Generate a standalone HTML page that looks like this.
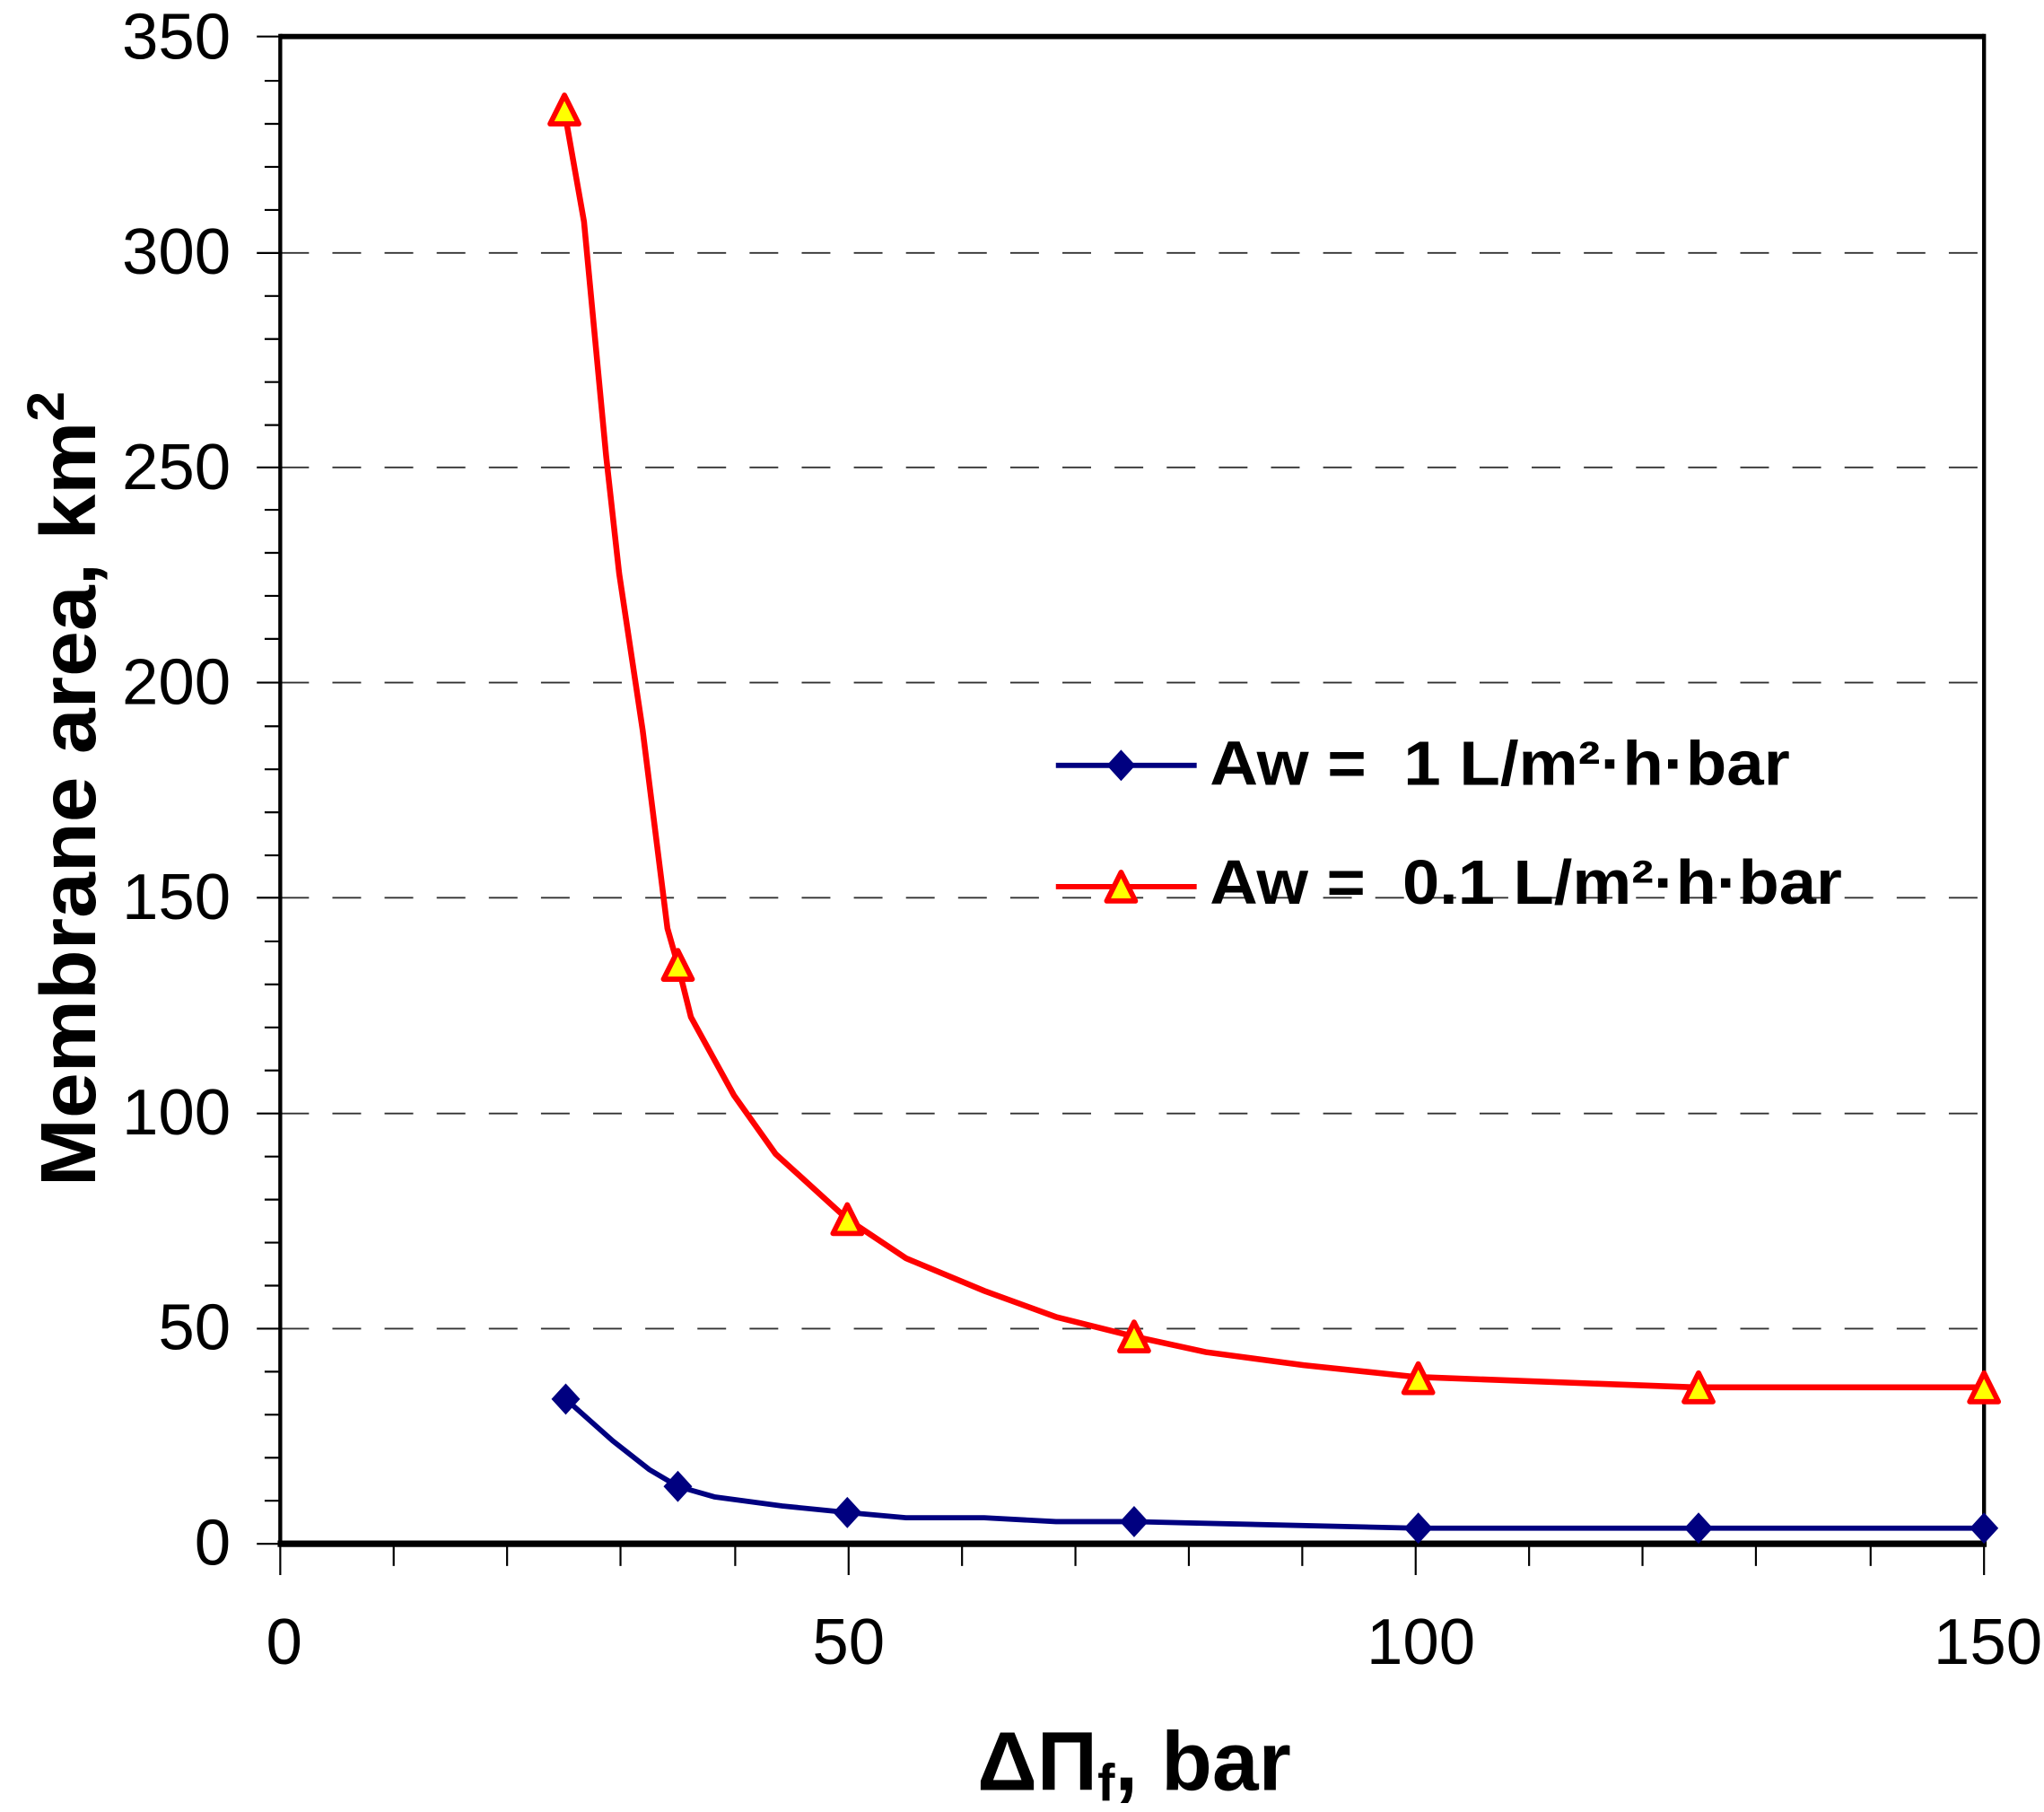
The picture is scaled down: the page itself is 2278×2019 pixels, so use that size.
<!DOCTYPE html>
<html><head><meta charset="utf-8"><style>
html,body{margin:0;padding:0;background:#fff;}
svg{display:block;}
text{font-family:"Liberation Sans",Arial,sans-serif;}
</style></head><body>
<svg width="2278" height="2019" viewBox="0 0 1568 1389.7" preserveAspectRatio="none" xmlns="http://www.w3.org/2000/svg">
<rect width="1568" height="1390" fill="#fff"/>
<g stroke="#333" stroke-width="1.3" stroke-dasharray="22,18">
<line x1="215" y1="1019" x2="1522" y2="1019"/>
<line x1="215" y1="854" x2="1522" y2="854"/>
<line x1="215" y1="688.5" x2="1522" y2="688.5"/>
<line x1="215" y1="523.5" x2="1522" y2="523.5"/>
<line x1="215" y1="358.5" x2="1522" y2="358.5"/>
<line x1="215" y1="194" x2="1522" y2="194"/>
</g>
<g stroke="#000" stroke-width="1.5">
<path d="M197 1184H215M203 1151H215M203 1118H215M203 1085H215M203 1052H215M197 1019H215M203 986H215M203 953H215M203 920H215M203 887H215M197 854H215M203 821H215M203 788H215M203 755H215M203 722H215M197 688.5H215M203 656H215M203 623H215M203 590H215M203 557H215M197 523.5H215M203 490H215M203 457H215M203 424H215M203 391H215M197 358.5H215M203 326H215M203 293H215M203 260H215M203 227H215M197 194H215M203 161H215M203 128H215M203 95H215M203 62H215M197 28H215"/>
<path d="M215 1184V1208M302 1184V1201M389 1184V1201M476 1184V1201M564 1184V1201M651 1184V1208M738 1184V1201M825 1184V1201M912 1184V1201M999 1184V1201M1086 1184V1208M1173 1184V1201M1260 1184V1201M1347 1184V1201M1435 1184V1201M1522 1184V1208"/>
</g>
<line x1="215" y1="28" x2="1522" y2="28" stroke="#000" stroke-width="4"/>
<line x1="215" y1="26" x2="215" y2="1186" stroke="#000" stroke-width="3"/>
<line x1="1522" y1="26" x2="1522" y2="1186" stroke="#000" stroke-width="3"/>
<line x1="213" y1="1184" x2="1524" y2="1184" stroke="#000" stroke-width="5"/>
<g font-size="50" text-anchor="end" fill="#000">
<text x="177" y="1200">0</text>
<text x="177" y="1035">50</text>
<text x="177" y="870">100</text>
<text x="177" y="705">150</text>
<text x="177" y="540">200</text>
<text x="177" y="375">250</text>
<text x="177" y="210">300</text>
<text x="177" y="45">350</text>
</g>
<g font-size="50" text-anchor="middle" fill="#000">
<text x="218" y="1276">0</text>
<text x="651" y="1276">50</text>
<text x="1090" y="1276">100</text>
<text x="1525" y="1276">150</text>
</g>
<text transform="translate(73,605) rotate(-90)" font-size="60" font-weight="bold" text-anchor="middle" textLength="610" lengthAdjust="spacingAndGlyphs">Membrane area, km<tspan font-size="40" dy="-24">2</tspan></text>
<text x="870" y="1373" font-size="64" font-weight="bold" text-anchor="middle">ΔΠ<tspan font-size="40" dy="8">f</tspan><tspan dy="-8">, bar</tspan></text>
<path d="M434 1073 L470 1105 L498 1127 L520 1140 L548 1148 L600 1155 L650 1160 L695 1164 L755 1164 L810 1167 L870 1167 L1086 1172 L1522 1172" fill="none" stroke="#000080" stroke-width="4"/>
<path d="M433 85 L448 170 L465 350 L475 440 L493 560 L512 712 L520 740 L530 780 L563 840 L595 885 L650 935 L695 965 L755 990 L810 1010 L870 1025 L925 1037 L1000 1047 L1086 1056 L1300 1064 L1522 1064" fill="none" stroke="#ff0000" stroke-width="4.5"/>
<g fill="#000080">
<path d="M434 1061l11 12-11 12-11-12z"/><path d="M520 1128l11 12-11 12-11-12z"/><path d="M650 1148l11 12-11 12-11-12z"/><path d="M870 1155l11 12-11 12-11-12z"/><path d="M1088 1160l11 12-11 12-11-12z"/><path d="M1303 1160l11 12-11 12-11-12z"/><path d="M1522 1160l11 12-11 12-11-12z"/>
</g>
<g fill="#ffff00" stroke="#ff0000" stroke-width="4" stroke-linejoin="round">
<path d="M433 73l11 22h-22z"/><path d="M520 729l11 22h-22z"/><path d="M650 924l11 22h-22z"/><path d="M870 1014l11 22h-22z"/><path d="M1088 1046l11 22h-22z"/><path d="M1303 1053l11 22h-22z"/><path d="M1522 1053l11 22h-22z"/>
</g>
<line x1="810" y1="587" x2="918" y2="587" stroke="#000080" stroke-width="4"/>
<path d="M860 575l11 12-11 12-11-12z" fill="#000080"/>
<line x1="810" y1="680" x2="918" y2="680" stroke="#ff0000" stroke-width="4"/>
<path d="M860 669l11 22h-22z" fill="#ffff00" stroke="#ff0000" stroke-width="4" stroke-linejoin="round"/>
<g font-size="48" font-weight="bold" fill="#000">
<text x="928" y="602" xml:space="preserve" textLength="445" lengthAdjust="spacingAndGlyphs">Aw =  1 L/m²·h·bar</text>
<text x="928" y="693" xml:space="preserve" textLength="485" lengthAdjust="spacingAndGlyphs">Aw =  0.1 L/m²·h·bar</text>
</g>
</svg>
</body></html>
